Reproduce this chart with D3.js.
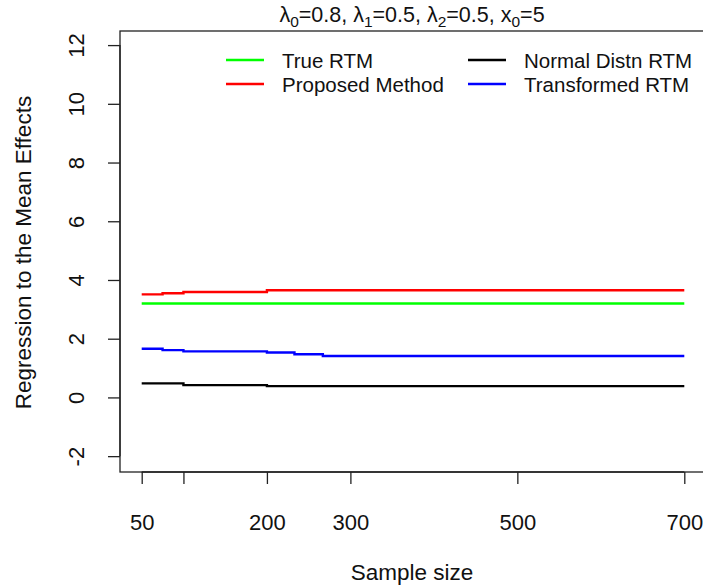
<!DOCTYPE html>
<html><head><meta charset="utf-8">
<script src="https://cdn.jsdelivr.net/npm/d3@7"></script>
<style>html,body{margin:0;padding:0;background:#fff;}svg{display:block;font-family:"Liberation Sans",Arial,sans-serif;}</style>
</head><body>
<script>
const sampleSize  = [50, 75, 100, 200, 233, 267, 300, 500, 700];
const trueRTM     = [3.20, 3.20, 3.20, 3.20, 3.20, 3.20, 3.20, 3.20, 3.20];
const proposed    = [3.51, 3.55, 3.59, 3.65, 3.65, 3.65, 3.65, 3.65, 3.65];
const normalRTM   = [0.48, 0.48, 0.42, 0.385, 0.385, 0.385, 0.385, 0.385, 0.385];
const transformed = [1.66, 1.61, 1.57, 1.53, 1.47, 1.41, 1.41, 1.41, 1.41];
const xTicks = [50, 100, 200, 300, 500, 700];
const xTickLabels = ["50", "", "200", "300", "500", "700"];
const yTicks = [-2, 0, 2, 4, 6, 8, 10, 12];
const seriesNames = ["True RTM", "Proposed Method", "Normal Distn RTM", "Transformed RTM"];
const seriesColors = ["#00ff00", "#ff0000", "#000000", "#0000ff"];

const W = 703, H = 587;
const svg = d3.select("body").append("svg").attr("width", W).attr("height", H);

const box = {left: 120, right: 706, top: 31, bottom: 472};
const x = d3.scaleLinear().domain([24, 726]).range([box.left, box.right]);
const y = d3.scaleLinear().domain([-2.54, 12.48]).range([box.bottom, box.top]);

// plot box
svg.append("rect").attr("x", box.left).attr("y", box.top)
  .attr("width", box.right - box.left).attr("height", box.bottom - box.top)
  .attr("fill", "none").attr("stroke", "#222").attr("stroke-width", 1.3);

// x axis
const xAxis = d3.axisBottom(x).tickValues(xTicks).tickSize(12).tickPadding(30)
  .tickFormat((d, i) => xTickLabels[i]);
const gx = svg.append("g").attr("transform", `translate(0,${box.bottom})`).call(xAxis);
gx.select(".domain").attr("d", `M${x(50)},0H${x(700)}`).attr("stroke", "#222").attr("stroke-width", 1.3);
gx.selectAll(".tick line").attr("stroke", "#222").attr("stroke-width", 1.3);
gx.selectAll(".tick text").attr("font-size", 22).attr("fill", "#111").attr("font-family", "Liberation Sans, Arial, sans-serif");

// y axis
const yAxis = d3.axisLeft(y).tickValues(yTicks).tickSize(12).tickPadding(0).tickFormat(d => String(d));
const gy = svg.append("g").attr("transform", `translate(${box.left},0)`).call(yAxis);
gy.select(".domain").attr("d", `M0,${y(-2)}V${y(12)}`).attr("stroke", "#222").attr("stroke-width", 1.3);
gy.selectAll(".tick line").attr("stroke", "#222").attr("stroke-width", 1.3);
gy.selectAll(".tick text").attr("font-size", 22).attr("fill", "#111")
  .attr("font-family", "Liberation Sans, Arial, sans-serif")
  .attr("x", null).attr("dy", null)
  .attr("text-anchor", "middle")
  .attr("transform", "translate(-44,0) rotate(-90)")
  .attr("dominant-baseline", "central");

// axis titles
svg.append("text").attr("x", 412).attr("y", 580).attr("text-anchor", "middle")
  .attr("font-size", 22.5).attr("fill", "#111").text("Sample size");
svg.append("text").attr("transform", `translate(31,${(y(-2)+y(12))/2+2}) rotate(-90)`)
  .attr("text-anchor", "middle").attr("font-size", 22.5).attr("fill", "#111")
  .text("Regression to the Mean Effects");

// title
const title = svg.append("text").attr("x", 412).attr("y", 22).attr("text-anchor", "middle")
  .attr("font-size", 21.5).attr("fill", "#111");
const parts = [["λ",""],["0","sub"],["=0.8, λ",""],["1","sub"],["=0.5, λ",""],["2","sub"],["=0.5, x",""],["0","sub"],["=5",""]];
parts.forEach(([t, k], i) => {
  const ts = title.append("tspan").text(t);
  if (k === "sub") ts.attr("font-size", 15.5).attr("dy", 5);
  else if (i > 0) ts.attr("dy", -5);
});

// lines
const series = [trueRTM, proposed, normalRTM, transformed];
const line = d3.line().x((d, i) => x(sampleSize[i])).y(d => y(d)).curve(d3.curveStepAfter);
series.forEach((vals, k) => {
  svg.append("path").datum(vals).attr("d", line).attr("fill", "none")
    .attr("stroke", seriesColors[k]).attr("stroke-width", 2.4);
});

// legend
const legPos = [[226, 60], [226, 84], [468, 60], [468, 84]];
seriesNames.forEach((name, k) => {
  const [lx, ly] = legPos[k];
  svg.append("line").attr("x1", lx).attr("x2", lx + 38).attr("y1", ly).attr("y2", ly)
    .attr("stroke", seriesColors[k]).attr("stroke-width", 2.4);
  svg.append("text").attr("x", lx + 56).attr("y", ly + 8).attr("font-size", 20.5)
    .attr("fill", "#111").text(name);
});
</script>
</body></html>
